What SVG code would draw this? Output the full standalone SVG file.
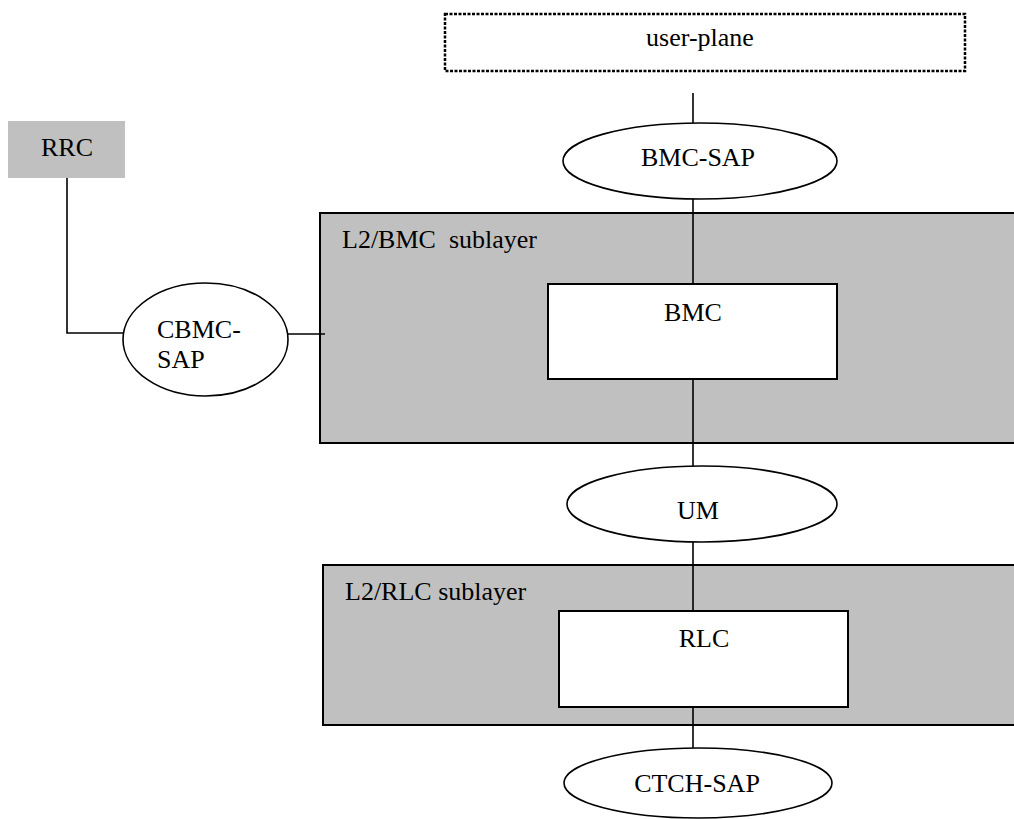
<svg xmlns="http://www.w3.org/2000/svg" width="1014" height="819" viewBox="0 0 1014 819">
<style>
text{font-family:"Liberation Serif","Times New Roman",serif;font-size:26px;fill:#000;white-space:pre}
.c{text-anchor:middle}
.ell{fill:#fff;stroke:#000;stroke-width:1.6}
.layer{fill:#c0c0c0;stroke:#000;stroke-width:2}
.box{fill:#fff;stroke:#000;stroke-width:2}
.ln{stroke:#000;stroke-width:1.6;fill:none}
</style>
<rect width="1014" height="819" fill="#fff"/>
<g id="l2bmc"><rect class="layer" x="320" y="213" width="700" height="230"/><text x="342" y="248" xml:space="preserve">L2/BMC  sublayer</text></g>
<g id="l2rlc"><rect class="layer" x="323" y="565" width="700" height="160"/><text x="345" y="600">L2/RLC sublayer</text></g>
<g id="connectors">
<line class="ln" x1="693" y1="93" x2="693" y2="123"/>
<line class="ln" x1="693" y1="199" x2="693" y2="284"/>
<line class="ln" x1="693" y1="379" x2="693" y2="466"/>
<line class="ln" x1="693" y1="542" x2="693" y2="611"/>
<line class="ln" x1="693" y1="707" x2="693" y2="748"/>
<polyline class="ln" points="67,178 67,333 123,333"/>
<line class="ln" x1="288" y1="334" x2="325" y2="334"/>
</g>
<g id="userplane"><rect x="445" y="14" width="520" height="57" fill="#fff" stroke="#000" stroke-width="2.5" stroke-dasharray="3 1.5"/><text class="c" x="700" y="46">user-plane</text></g>
<g id="rrc"><rect x="8" y="121" width="117" height="57" fill="#c0c0c0"/><text class="c" x="67" y="156">RRC</text></g>
<g id="bmcsap"><ellipse class="ell" cx="700" cy="161" rx="137" ry="38"/><text class="c" x="698" y="166">BMC-SAP</text></g>
<g id="cbmcsap"><ellipse class="ell" cx="205.5" cy="339.5" rx="82.5" ry="56.5"/><text x="157" y="338">CBMC-</text><text x="157" y="368">SAP</text></g>
<g id="bmc"><rect class="box" x="548" y="284" width="289" height="95"/><text class="c" x="693" y="321">BMC</text></g>
<g id="um"><ellipse class="ell" cx="702" cy="504" rx="135" ry="38"/><text class="c" x="698" y="519">UM</text></g>
<g id="rlc"><rect class="box" x="559" y="611" width="289" height="96"/><text class="c" x="704" y="647">RLC</text></g>
<g id="ctchsap"><ellipse class="ell" cx="698" cy="783" rx="134" ry="35"/><text class="c" x="697" y="792">CTCH-SAP</text></g>
</svg>
